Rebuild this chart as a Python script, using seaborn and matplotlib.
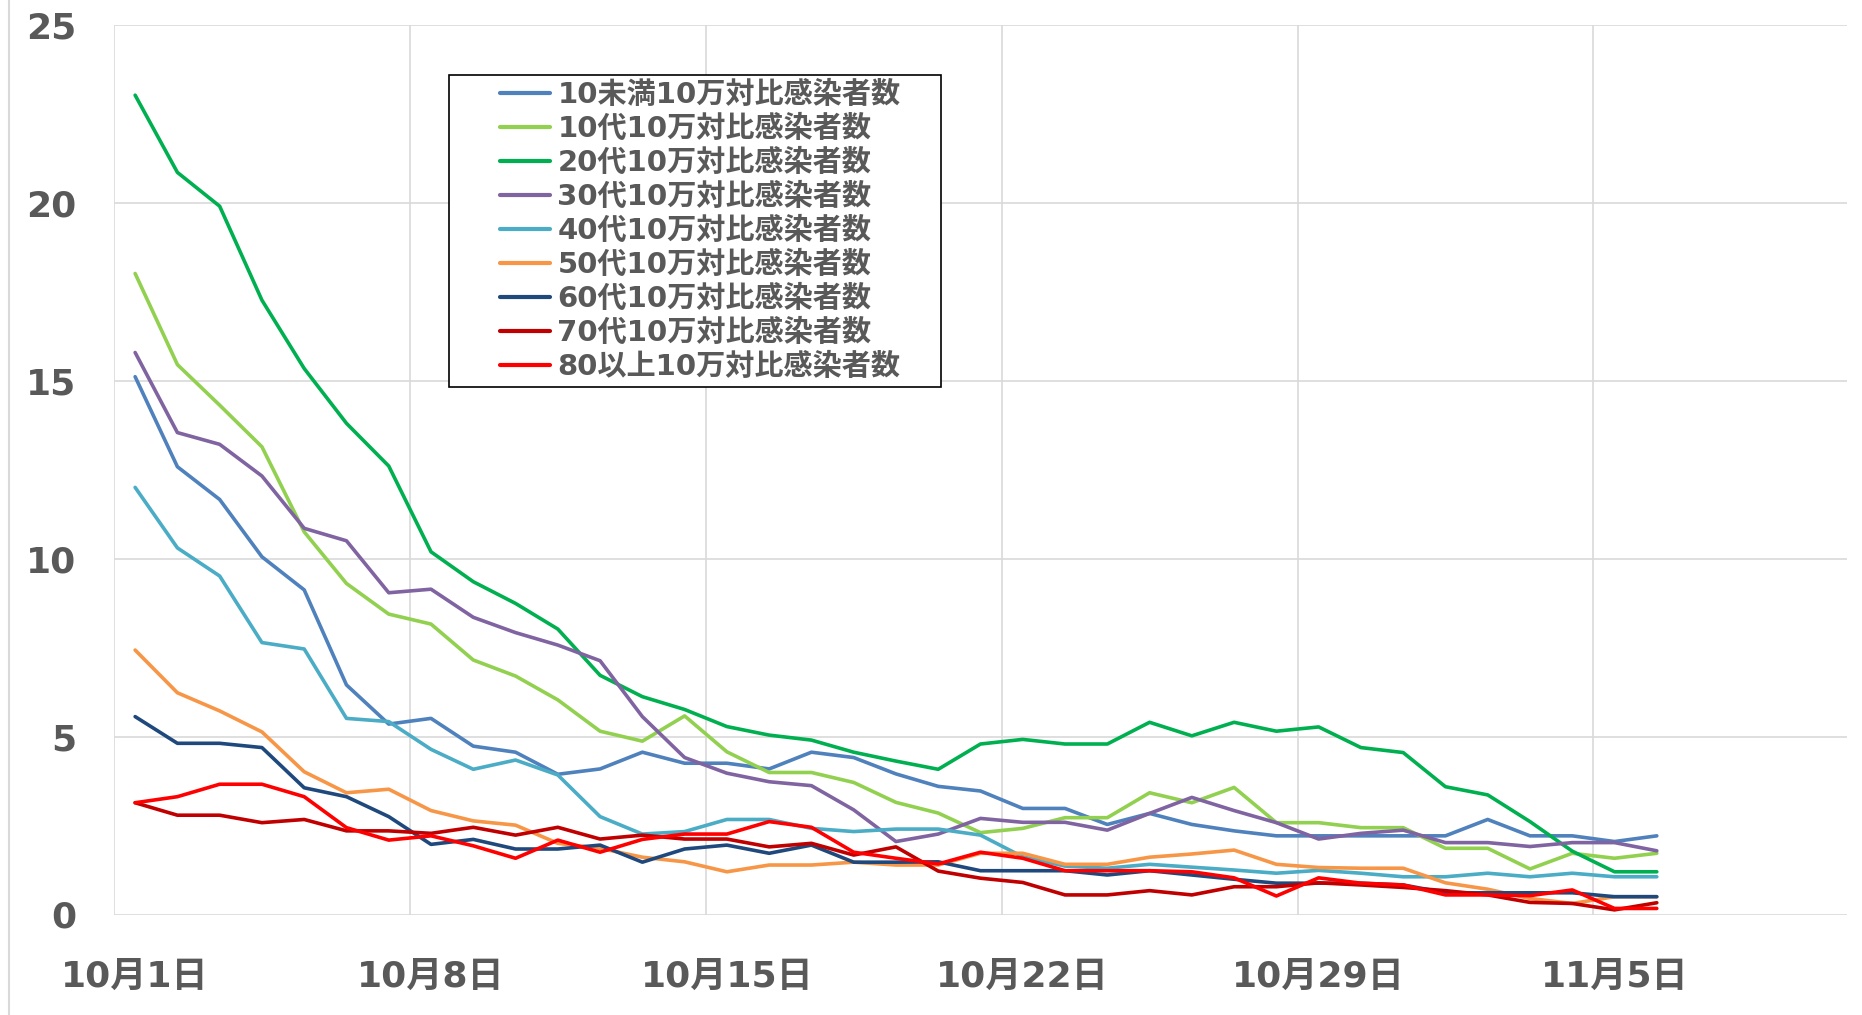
import numpy as np
import pandas as pd
import matplotlib
matplotlib.use("Agg")
import matplotlib.pyplot as plt
from matplotlib.lines import Line2D
from matplotlib.patches import Rectangle
import seaborn as sns

# 10月1日〜11月6日 の日別値 (10万人対比)
days = list(range(37))
tick_days = [0, 7, 14, 21, 28, 35]
tick_labels = ["10月1日", "10月8日", "10月15日", "10月22日", "10月29日", "11月5日"]

under10 = [15.11, 12.58, 11.66, 10.05, 9.12, 6.45, 5.35, 5.51, 4.73, 4.56,
           3.94, 4.09, 4.56, 4.25, 4.25, 4.09, 4.56, 4.41, 3.95, 3.60,
           3.47, 2.98, 2.98, 2.53, 2.84, 2.53, 2.35, 2.21, 2.21, 2.21,
           2.21, 2.21, 2.67, 2.21, 2.21, 2.05, 2.21]
age10 = [18.01, 15.45, 14.31, 13.14, 10.75, 9.30, 8.44, 8.16, 7.15, 6.70,
         6.03, 5.15, 4.87, 5.58, 4.57, 3.99, 3.99, 3.71, 3.15, 2.85,
         2.30, 2.42, 2.72, 2.72, 3.42, 3.14, 3.57, 2.58, 2.58, 2.44,
         2.44, 1.86, 1.86, 1.28, 1.72, 1.58, 1.72]
age20 = [23.02, 20.85, 19.90, 17.26, 15.34, 13.80, 12.60, 10.19, 9.35, 8.74,
         8.02, 6.72, 6.12, 5.76, 5.28, 5.04, 4.90, 4.56, 4.31, 4.08,
         4.79, 4.92, 4.79, 4.79, 5.40, 5.02, 5.40, 5.15, 5.27, 4.69,
         4.55, 3.59, 3.36, 2.61, 1.78, 1.20, 1.20]
age30 = [15.79, 13.54, 13.21, 12.32, 10.85, 10.50, 9.04, 9.14, 8.35, 7.92,
         7.57, 7.13, 5.56, 4.41, 3.97, 3.73, 3.62, 2.94, 2.05, 2.26,
         2.70, 2.59, 2.59, 2.37, 2.84, 3.29, 2.92, 2.58, 2.12, 2.28,
         2.37, 2.02, 2.02, 1.91, 2.02, 2.02, 1.79]
age40 = [12.00, 10.30, 9.51, 7.64, 7.46, 5.51, 5.42, 4.64, 4.08, 4.34,
         3.92, 2.75, 2.26, 2.33, 2.67, 2.67, 2.42, 2.33, 2.40, 2.40,
         2.23, 1.62, 1.36, 1.30, 1.41, 1.33, 1.25, 1.16, 1.24, 1.16,
         1.06, 1.06, 1.16, 1.06, 1.16, 1.06, 1.06]
age50 = [7.43, 6.23, 5.72, 5.13, 4.01, 3.42, 3.52, 2.92, 2.63, 2.51,
         2.00, 1.86, 1.61, 1.48, 1.20, 1.39, 1.39, 1.47, 1.39, 1.39,
         1.72, 1.72, 1.41, 1.41, 1.61, 1.70, 1.81, 1.41, 1.32, 1.30,
         1.30, 0.89, 0.71, 0.45, 0.31, 0.50, 0.50]
age60 = [5.56, 4.81, 4.81, 4.69, 3.56, 3.31, 2.75, 1.97, 2.11, 1.84,
         1.84, 1.95, 1.47, 1.84, 1.95, 1.72, 1.95, 1.47, 1.47, 1.48,
         1.23, 1.23, 1.23, 1.11, 1.23, 1.11, 0.99, 0.88, 0.88, 0.88,
         0.83, 0.61, 0.61, 0.61, 0.61, 0.50, 0.50]
age70 = [3.14, 2.79, 2.79, 2.58, 2.67, 2.35, 2.35, 2.28, 2.45, 2.23,
         2.45, 2.12, 2.23, 2.12, 2.12, 1.90, 2.00, 1.67, 1.90, 1.22,
         1.02, 0.90, 0.55, 0.55, 0.67, 0.55, 0.78, 0.78, 0.89, 0.83,
         0.76, 0.67, 0.55, 0.34, 0.31, 0.13, 0.33]
age80 = [3.14, 3.31, 3.66, 3.66, 3.31, 2.44, 2.09, 2.21, 1.93, 1.58,
         2.09, 1.75, 2.11, 2.26, 2.26, 2.61, 2.45, 1.75, 1.58, 1.42,
         1.75, 1.58, 1.23, 1.23, 1.23, 1.20, 1.03, 0.52, 1.03, 0.88,
         0.83, 0.55, 0.55, 0.53, 0.69, 0.17, 0.17]

series_names = ["10未満10万対比感染者数", "10代10万対比感染者数", "20代10万対比感染者数",
                "30代10万対比感染者数", "40代10万対比感染者数", "50代10万対比感染者数",
                "60代10万対比感染者数", "70代10万対比感染者数", "80以上10万対比感染者数"]
series_values = [under10, age10, age20, age30, age40, age50, age60, age70, age80]
colors = ["#4F81BD", "#92D050", "#00B050", "#8064A2", "#4BACC6",
          "#F79646", "#1F497D", "#C00000", "#FF0000"]

df = pd.DataFrame({"day": days * len(series_names),
                   "value": sum(series_values, []),
                   "series": np.repeat(series_names, len(days))})

sns.set_style("white")
plt.rcParams["font.family"] = ["DejaVu Sans", "Noto Sans CJK JP"]
plt.rcParams["font.weight"] = "bold"

text_gray = "#595959"
grid_gray = "#D9D9D9"

fig = plt.figure(figsize=(18.62, 10.15), dpi=100)
ax = fig.add_axes([114 / 1862, 1 - 914.5 / 1015, (1847 - 114) / 1862, (914.5 - 24.7) / 1015])

sns.lineplot(data=df, x="day", y="value", hue="series", hue_order=series_names,
             palette=colors, linewidth=2.6, ax=ax, legend=True)

ax.set_xlim(-0.5, 40.5)
ax.set_ylim(0, 25)
ax.set_yticks(range(0, 26, 5))
ax.set_xticks(tick_days)
ax.set_xticklabels(tick_labels)
ax.set_xticks(np.arange(-0.5, 35, 7), minor=True)
ax.set_xlabel("")
ax.set_ylabel("")

for s in ax.spines.values():
    s.set_visible(False)
ax.grid(axis="y", which="major", color=grid_gray, linewidth=1.2)
ax.grid(axis="x", which="minor", color=grid_gray, linewidth=1.2)
ax.grid(axis="x", which="major", visible=False)
ax.set_axisbelow(True)

ax.tick_params(axis="x", which="major", length=0, pad=32.5, labelsize=26, labelcolor=text_gray)
ax.tick_params(axis="x", which="minor", length=9.5, width=1.2, color=grid_gray, direction="out")
ax.tick_params(axis="y", which="major", length=0, pad=27, labelsize=26, labelcolor=text_gray)
for lab in ax.get_xticklabels() + ax.get_yticklabels():
    lab.set_fontweight("bold")

handles, labels = ax.get_legend_handles_labels()
leg = ax.legend(handles, labels, loc="upper left", bbox_to_anchor=(0.2193, 0.9435),
                borderaxespad=0, frameon=False, handlelength=1.72, handletextpad=0.25,
                labelspacing=0.2, borderpad=0.2, prop={"weight": "bold", "size": 21})
for t in leg.get_texts():
    t.set_color(text_gray)
for h in leg.get_lines():
    h.set_linewidth(3)

# legend frame: wider padding left/right than matplotlib allows
fig.canvas.draw()
bb = leg.get_window_extent()
frame = Rectangle((bb.x0 - 45, bb.y0), bb.width + 45 + 35, bb.height,
                  transform=None, facecolor="white", edgecolor="black",
                  linewidth=1.2, zorder=4, clip_on=False)
ax.add_patch(frame)
leg.set_zorder(5)

# chart area border on the left
fig.add_artist(Line2D([9 / 1862, 9 / 1862], [0, 1], transform=fig.transFigure,
                      color=grid_gray, linewidth=1.5))

fig.savefig("out.png", dpi=100)
